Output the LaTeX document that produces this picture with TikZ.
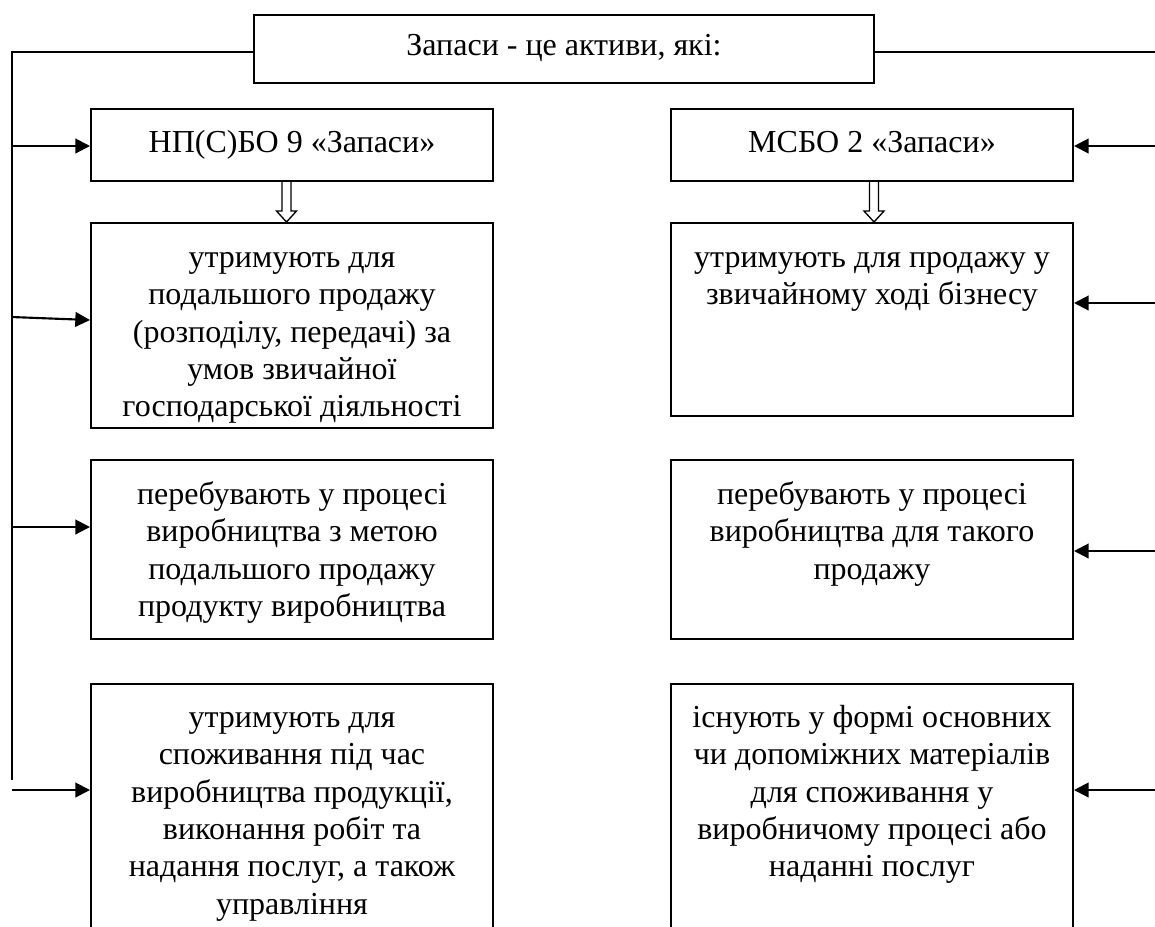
\documentclass[tikz,border=0pt]{standalone}
\usepackage{fontspec}
\setmainfont{Liberation Serif}
\usetikzlibrary{arrows.meta,calc}
\begin{document}
\begin{tikzpicture}[x=0.75pt,y=-0.75pt,
  box/.style={draw, line width=1.5pt, anchor=north west, inner sep=0pt},
  txt/.style={font=\fontsize{24pt}{28pt}\selectfont, align=center, inner sep=0pt, anchor=north},
  ln/.style={line width=1.5pt},
  arr/.style={line width=1.6pt, -{Triangle[length=11pt,width=11pt]}},
  hol/.style={line width=1pt, line join=miter}]
\useasboundingbox (0,0) rectangle (1155,926);
\clip (0,0) rectangle (1155,926);
% boxes
\node[box, minimum width=465pt, minimum height=51pt] (top) at (253,14) {};
\node[box, minimum width=301.5pt, minimum height=54pt] (np) at (90,108) {};
\node[box, minimum width=301.5pt, minimum height=54pt] (ms) at (670,108) {};
\node[box, minimum width=301.5pt, minimum height=153.75pt] (l2) at (90,222) {};
\node[box, minimum width=301.5pt, minimum height=134.25pt] (l3) at (90,459) {};
\node[box, minimum width=301.5pt, minimum height=195pt] (l4) at (90,683) {};
\node[box, minimum width=301.5pt, minimum height=144.75pt] (r2) at (670,222) {};
\node[box, minimum width=301.5pt, minimum height=134.25pt] (r3) at (670,459) {};
\node[box, minimum width=301.5pt, minimum height=195pt] (r4) at (670,683) {};
% texts
\node[txt] (ttop) at ($(top.north)+(0,15.3)$) {\strut Запаси - це активи, які:};
\node[txt] (tnp) at ($(np.north)+(0,18.5)$) {\strut НП(С)БО 9 «Запаси»};
\node[txt] (tms) at ($(ms.north)+(0,18.5)$) {\strut МСБО 2 «Запаси»};
\node[txt] (tl2) at ($(l2.north)+(0,19)$) {\strut утримують для\\подальшого продажу\\(розподілу, передачі) за\\умов звичайної\\господарської діяльності};
\node[txt] (tl3) at ($(l3.north)+(0,19)$) {\strut перебувають у процесі\\виробництва з метою\\подальшого продажу\\продукту виробництва};
\node[txt] (tl4) at ($(l4.north)+(0,18)$) {\strut утримують для\\споживання під час\\виробництва продукції,\\виконання робіт та\\надання послуг, а також\\управління};
\node[txt] (tr2) at ($(r2.north)+(0,19)$) {\strut утримують для продажу у\\звичайному ході бізнесу};
\node[txt] (tr3) at ($(r3.north)+(0,19)$) {\strut перебувають у процесі\\виробництва для такого\\продажу};
\node[txt] (tr4) at ($(r4.north)+(0,18)$) {\strut існують у формі основних\\чи допоміжних матеріалів\\для споживання у\\виробничому процесі або\\наданні послуг};
% free ends
\coordinate (lt) at (11.5,52);
\coordinate (lb) at (11.5,780);
\coordinate (cl1) at (11.5,146);
\coordinate (cl2) at (11.5,317);
\coordinate (cl3) at (11.5,527);
\coordinate (cl4) at (11.5,790);
\coordinate (cr0) at (1160,52);
\coordinate (cr1) at (1160,146);
\coordinate (cr2) at (1160,303);
\coordinate (cr3) at (1160,551);
\coordinate (cr4) at (1160,790);
% left trunk
\draw[ln] ($(top.north west)+(0,38)$) -- (lt) -- (lb);
\draw[ln] (cr0 -| top.east) -- (cr0);
% left arrows
\draw[arr] (cl1) -- (cl1 -| np.west);
\draw[arr] (cl2) -- ($(l2.north west)+(0,98)$);
\draw[arr] (cl3) -- (cl3 -| l3.west);
\draw[arr] (cl4) -- (cl4 -| l4.west);
% right arrows
\draw[arr] (cr1) -- (cr1 -| ms.east);
\draw[arr] (cr2) -- (cr2 -| r2.east);
\draw[arr] (cr3) -- (cr3 -| r3.east);
\draw[arr] (cr4) -- (cr4 -| r4.east);
% hollow double arrows
\draw[hol] ($(np.south)+(-10,0)$) -- ++(0,29) -- ++(-5.5,0) -- ($(l2.north)+(-5.5,0)$) -- ($(np.south)+(4.5,29)$) -- ++(-5.5,0) -- ++(0,-29);
\draw[hol] ($(ms.south)+(-2.5,0)$) -- ++(0,29) -- ++(-5.5,0) -- ($(r2.north)+(2,0)$) -- ($(ms.south)+(12,29)$) -- ++(-5.5,0) -- ++(0,-29);
\end{tikzpicture}
\end{document}
